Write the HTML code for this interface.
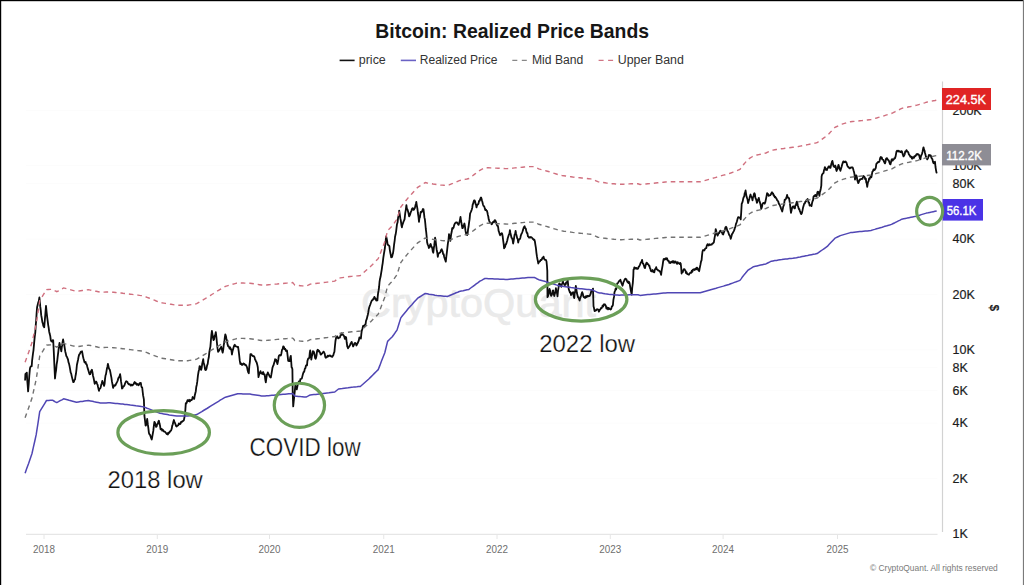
<!DOCTYPE html>
<html><head><meta charset="utf-8"><style>
html,body{margin:0;padding:0;background:#fff;}
body{width:1024px;height:585px;overflow:hidden;position:relative;}
svg{position:absolute;left:0;top:0;display:block;}
text{font-family:"Liberation Sans", sans-serif;}
</style></head><body>
<svg width="1024" height="585" viewBox="0 0 1024 585">
<rect x="0" y="0" width="1024" height="585" fill="#fff"/>
<line x1="26" y1="110.3" x2="937.5" y2="110.3" stroke="#fcfcfc" stroke-width="1"/>
<line x1="26" y1="165.7" x2="937.5" y2="165.7" stroke="#fcfcfc" stroke-width="1"/>
<line x1="26" y1="183.6" x2="937.5" y2="183.6" stroke="#fcfcfc" stroke-width="1"/>
<line x1="26" y1="239.0" x2="937.5" y2="239.0" stroke="#fcfcfc" stroke-width="1"/>
<line x1="26" y1="294.4" x2="937.5" y2="294.4" stroke="#fcfcfc" stroke-width="1"/>
<line x1="26" y1="349.9" x2="937.5" y2="349.9" stroke="#fcfcfc" stroke-width="1"/>
<line x1="26" y1="367.7" x2="937.5" y2="367.7" stroke="#fcfcfc" stroke-width="1"/>
<line x1="26" y1="390.7" x2="937.5" y2="390.7" stroke="#fcfcfc" stroke-width="1"/>
<line x1="26" y1="423.1" x2="937.5" y2="423.1" stroke="#fcfcfc" stroke-width="1"/>
<line x1="26" y1="478.6" x2="937.5" y2="478.6" stroke="#fcfcfc" stroke-width="1"/>
<!-- watermark -->
<text x="361" y="317" font-size="40" fill="#eaeaea" stroke="#eaeaea" stroke-width="0.6" textLength="235" lengthAdjust="spacingAndGlyphs">CryptoQuant</text>
<!-- title -->
<text x="375.3" y="37.7" font-size="20.8" font-weight="bold" fill="#161616" textLength="273.8" lengthAdjust="spacingAndGlyphs">Bitcoin: Realized Price Bands</text>
<!-- legend -->
<line x1="339.6" y1="60.4" x2="354.6" y2="60.4" stroke="#111" stroke-width="1.6"/>
<text x="358.8" y="63.5" font-size="12.3" fill="#333" textLength="27" lengthAdjust="spacingAndGlyphs">price</text>
<line x1="400.8" y1="60.4" x2="416" y2="60.4" stroke="#6a62c4" stroke-width="1.6"/>
<text x="419.8" y="63.5" font-size="12.3" fill="#333" textLength="77.6" lengthAdjust="spacingAndGlyphs">Realized Price</text>
<line x1="512.3" y1="60.4" x2="527" y2="60.4" stroke="#888" stroke-width="1.4" stroke-dasharray="5 4.5"/>
<text x="532" y="63.5" font-size="12.3" fill="#333" textLength="51.3" lengthAdjust="spacingAndGlyphs">Mid Band</text>
<line x1="598.6" y1="60.4" x2="613.4" y2="60.4" stroke="#d07584" stroke-width="1.4" stroke-dasharray="5 4.5"/>
<text x="617.8" y="63.5" font-size="12.3" fill="#333" textLength="66" lengthAdjust="spacingAndGlyphs">Upper Band</text>
<!-- axes -->
<line x1="26" y1="534.3" x2="937.5" y2="534.3" stroke="#e6e6e6" stroke-width="1.2"/>
<line x1="942.5" y1="81.5" x2="942.5" y2="532" stroke="#d2d2d2" stroke-width="1.2"/>
<line x1="44.0" y1="535" x2="44.0" y2="539" stroke="#e6e6e6" stroke-width="1"/>
<text x="44.0" y="553.1" font-size="10.8" fill="#6e6e6e" text-anchor="middle" textLength="22" lengthAdjust="spacingAndGlyphs">2018</text>
<line x1="157.3" y1="535" x2="157.3" y2="539" stroke="#e6e6e6" stroke-width="1"/>
<text x="157.3" y="553.1" font-size="10.8" fill="#6e6e6e" text-anchor="middle" textLength="22" lengthAdjust="spacingAndGlyphs">2019</text>
<line x1="269.5" y1="535" x2="269.5" y2="539" stroke="#e6e6e6" stroke-width="1"/>
<text x="269.5" y="553.1" font-size="10.8" fill="#6e6e6e" text-anchor="middle" textLength="22" lengthAdjust="spacingAndGlyphs">2020</text>
<line x1="383.75" y1="535" x2="383.75" y2="539" stroke="#e6e6e6" stroke-width="1"/>
<text x="383.75" y="553.1" font-size="10.8" fill="#6e6e6e" text-anchor="middle" textLength="22" lengthAdjust="spacingAndGlyphs">2021</text>
<line x1="497" y1="535" x2="497" y2="539" stroke="#e6e6e6" stroke-width="1"/>
<text x="497" y="553.1" font-size="10.8" fill="#6e6e6e" text-anchor="middle" textLength="22" lengthAdjust="spacingAndGlyphs">2022</text>
<line x1="610.3" y1="535" x2="610.3" y2="539" stroke="#e6e6e6" stroke-width="1"/>
<text x="610.3" y="553.1" font-size="10.8" fill="#6e6e6e" text-anchor="middle" textLength="22" lengthAdjust="spacingAndGlyphs">2023</text>
<line x1="723.1" y1="535" x2="723.1" y2="539" stroke="#e6e6e6" stroke-width="1"/>
<text x="723.1" y="553.1" font-size="10.8" fill="#6e6e6e" text-anchor="middle" textLength="22" lengthAdjust="spacingAndGlyphs">2024</text>
<line x1="837.5" y1="535" x2="837.5" y2="539" stroke="#e6e6e6" stroke-width="1"/>
<text x="837.5" y="553.1" font-size="10.8" fill="#6e6e6e" text-anchor="middle" textLength="22" lengthAdjust="spacingAndGlyphs">2025</text>
<text x="952.5" y="114.5" font-size="12.5" fill="#1c1c1c" stroke="#1c1c1c" stroke-width="0.2">200K</text>
<text x="952.5" y="169.9" font-size="12.5" fill="#1c1c1c" stroke="#1c1c1c" stroke-width="0.2">100K</text>
<text x="952.5" y="187.8" font-size="12.5" fill="#1c1c1c" stroke="#1c1c1c" stroke-width="0.2">80K</text>
<text x="952.5" y="243.2" font-size="12.5" fill="#1c1c1c" stroke="#1c1c1c" stroke-width="0.2">40K</text>
<text x="952.5" y="298.6" font-size="12.5" fill="#1c1c1c" stroke="#1c1c1c" stroke-width="0.2">20K</text>
<text x="952.5" y="354.1" font-size="12.5" fill="#1c1c1c" stroke="#1c1c1c" stroke-width="0.2">10K</text>
<text x="952.5" y="371.9" font-size="12.5" fill="#1c1c1c" stroke="#1c1c1c" stroke-width="0.2">8K</text>
<text x="952.5" y="394.9" font-size="12.5" fill="#1c1c1c" stroke="#1c1c1c" stroke-width="0.2">6K</text>
<text x="952.5" y="427.3" font-size="12.5" fill="#1c1c1c" stroke="#1c1c1c" stroke-width="0.2">4K</text>
<text x="952.5" y="482.8" font-size="12.5" fill="#1c1c1c" stroke="#1c1c1c" stroke-width="0.2">2K</text>
<text x="952.5" y="538.2" font-size="12.5" fill="#1c1c1c" stroke="#1c1c1c" stroke-width="0.2">1K</text>
<text transform="translate(990,307.8) rotate(90)" font-size="12" font-weight="bold" fill="#222" text-anchor="middle">$</text>
<path d="M25.1 380.5 L25.4 374.0 L25.9 373.4 L26.3 374.1 L26.8 372.6 L27.2 379.8 L27.7 385.8 L28.1 391.4 L28.7 384.5 L29.3 375.8 L29.9 368.9 L30.3 367.2 L30.8 366.4 L31.2 366.1 L31.7 366.1 L32.1 360.6 L32.6 356.7 L33.0 353.5 L33.5 350.1 L34.1 343.4 L34.7 337.1 L35.3 332.3 L35.8 324.6 L36.2 320.4 L36.6 313.4 L37.1 307.3 L37.7 304.8 L38.2 302.7 L38.8 301.2 L39.4 297.5 L39.9 302.5 L40.3 306.9 L40.8 310.6 L41.2 315.2 L41.8 318.3 L42.4 322.3 L42.9 323.7 L43.3 325.8 L43.8 326.4 L44.2 327.3 L44.8 320.7 L45.4 313.3 L46.0 305.8 L46.6 312.2 L47.2 317.3 L47.8 321.8 L48.2 325.1 L48.7 327.8 L49.1 331.2 L49.6 333.6 L50.2 335.7 L50.8 340.1 L51.4 341.3 L51.9 341.5 L52.3 341.7 L52.8 340.1 L53.2 340.3 L53.8 351.9 L54.4 365.8 L55.0 378.5 L55.5 373.8 L56.1 370.1 L56.6 364.7 L57.2 361.1 L57.7 356.6 L58.3 351.8 L58.9 346.8 L59.5 342.8 L60.1 346.0 L60.7 348.0 L61.3 351.3 L61.8 347.0 L62.2 345.2 L62.6 341.9 L63.1 339.5 L63.6 342.4 L64.2 344.5 L64.7 347.9 L65.3 351.7 L65.8 353.6 L66.3 356.0 L66.9 356.8 L67.4 358.2 L68.0 359.5 L68.5 362.3 L69.0 363.6 L69.6 366.3 L70.1 369.1 L70.7 372.6 L71.2 373.6 L71.7 376.1 L72.2 378.1 L72.8 380.6 L73.3 382.2 L73.9 381.7 L74.4 380.0 L75.0 379.6 L75.5 376.0 L76.0 373.5 L76.4 370.1 L76.9 365.0 L77.5 362.2 L78.1 359.5 L78.6 356.7 L79.2 354.4 L79.8 354.0 L80.3 352.8 L80.9 351.7 L81.4 352.0 L82.0 351.3 L82.5 353.8 L83.0 356.6 L83.4 358.2 L83.9 359.9 L84.4 362.1 L85.0 362.7 L85.6 362.0 L86.1 364.1 L86.7 364.4 L87.3 366.8 L87.9 368.9 L88.4 370.4 L89.0 372.6 L89.6 374.3 L90.2 374.2 L90.8 371.9 L91.3 370.7 L91.9 369.8 L92.5 372.5 L93.0 375.7 L93.6 378.0 L94.1 380.7 L94.7 383.8 L95.2 383.0 L95.7 382.8 L96.1 381.5 L96.6 382.4 L97.1 383.8 L97.6 384.8 L98.0 386.8 L98.5 388.9 L99.0 390.8 L99.5 388.8 L100.1 388.7 L100.7 387.4 L101.2 384.8 L101.8 383.2 L102.3 380.9 L102.9 382.5 L103.5 384.5 L104.1 385.9 L104.6 383.8 L105.0 379.1 L105.5 375.5 L106.0 374.1 L106.5 371.1 L107.0 368.2 L107.4 366.9 L107.9 363.8 L108.4 365.9 L108.8 368.0 L109.3 369.0 L109.8 369.8 L110.3 371.9 L110.9 375.1 L111.4 377.7 L112.0 381.9 L112.5 384.4 L113.1 387.9 L113.7 386.3 L114.2 385.3 L114.8 385.8 L115.4 385.5 L116.0 384.0 L116.6 382.8 L117.2 381.6 L117.8 380.3 L118.3 378.1 L118.9 377.5 L119.5 376.0 L120.1 374.2 L120.6 377.4 L121.0 381.2 L121.5 384.4 L122.0 388.6 L122.5 388.3 L123.0 386.5 L123.6 386.6 L124.1 385.9 L124.6 385.0 L125.2 383.1 L125.7 382.0 L126.2 381.2 L126.8 381.5 L127.4 381.9 L127.9 383.2 L128.5 384.1 L129.1 384.4 L129.7 384.1 L130.2 384.9 L130.8 385.6 L131.4 384.6 L131.9 385.3 L132.5 385.3 L133.1 384.6 L133.6 384.0 L134.1 383.0 L134.7 382.0 L135.2 383.5 L135.8 382.9 L136.3 384.2 L136.9 384.8 L137.4 384.0 L138.0 384.3 L138.6 385.2 L139.1 384.5 L139.7 383.2 L140.2 383.0 L140.8 382.8 L141.3 385.9 L141.7 387.2 L142.2 387.5 L142.7 392.0 L143.1 395.4 L143.6 397.9 L143.9 399.7 L144.4 415.7 L145.0 420.4 L145.6 425.7 L146.1 425.0 L146.7 421.8 L147.2 419.0 L147.8 424.2 L148.3 427.6 L148.9 432.9 L149.5 434.4 L150.0 434.7 L150.6 436.4 L151.1 438.0 L151.7 439.5 L152.2 437.2 L152.8 433.6 L153.3 430.9 L153.9 425.4 L154.4 421.9 L155.0 422.7 L155.5 424.7 L156.1 426.9 L156.7 426.3 L157.2 424.1 L157.8 423.9 L158.3 421.8 L158.9 420.7 L159.5 423.6 L160.0 425.5 L160.6 429.3 L161.1 429.0 L161.7 428.9 L162.2 430.7 L162.8 429.7 L163.3 430.5 L163.9 431.5 L164.4 431.7 L165.0 431.7 L165.6 432.5 L166.1 433.1 L166.7 434.0 L167.2 433.1 L167.8 434.5 L168.4 433.2 L168.9 432.5 L169.4 432.7 L170.0 431.5 L170.6 430.9 L171.1 430.5 L171.7 428.8 L172.2 425.9 L172.8 424.2 L173.3 422.0 L173.9 420.0 L174.4 421.9 L175.0 423.0 L175.6 424.6 L176.1 426.1 L176.7 426.5 L177.2 425.6 L177.8 425.5 L178.3 425.2 L178.9 423.4 L179.5 423.7 L180.0 424.2 L180.6 423.6 L181.1 421.9 L181.7 421.6 L182.2 421.9 L182.8 420.9 L183.3 420.9 L183.9 420.2 L184.4 417.5 L185.0 413.9 L185.4 409.3 L185.8 403.1 L186.4 403.3 L186.9 402.2 L187.5 400.2 L188.1 400.8 L188.7 401.1 L189.2 399.8 L189.8 401.5 L190.4 400.6 L191.0 400.0 L191.6 400.2 L192.1 399.1 L192.7 397.0 L193.2 398.1 L193.7 398.7 L194.2 398.9 L194.7 395.8 L195.3 393.2 L195.8 391.2 L196.3 386.7 L196.8 384.7 L197.3 381.4 L197.9 375.9 L198.5 372.0 L199.1 369.5 L199.6 366.2 L200.1 366.3 L200.7 369.2 L201.2 369.8 L201.7 367.8 L202.2 363.8 L202.7 361.8 L203.2 359.1 L203.6 362.9 L204.1 364.1 L204.6 366.2 L205.0 369.0 L205.5 370.0 L206.0 369.8 L206.5 368.7 L207.1 365.4 L207.7 363.9 L208.2 360.1 L208.8 357.3 L209.3 352.5 L209.9 348.9 L210.4 346.6 L210.9 340.7 L211.4 334.5 L211.9 330.9 L212.4 333.9 L213.0 337.8 L213.5 340.0 L214.1 339.4 L214.7 335.7 L215.2 335.2 L215.8 332.2 L216.4 337.0 L216.9 342.4 L217.5 348.2 L218.1 351.8 L218.6 350.8 L219.1 350.8 L219.6 349.5 L220.2 348.5 L220.7 347.8 L221.2 346.8 L221.7 348.9 L222.2 350.9 L222.7 352.7 L223.2 349.9 L223.7 345.3 L224.3 342.0 L224.8 337.7 L225.3 334.3 L225.9 336.0 L226.4 338.7 L227.0 340.6 L227.5 344.3 L228.1 346.3 L228.6 346.1 L229.1 347.1 L229.6 348.6 L230.2 347.4 L230.7 349.3 L231.2 349.1 L231.6 351.5 L231.9 354.5 L232.5 351.3 L233.1 349.2 L233.6 347.3 L234.2 345.6 L234.8 344.7 L235.3 346.2 L235.9 346.3 L236.4 346.6 L237.0 346.6 L237.5 347.0 L238.1 346.8 L238.7 351.2 L239.2 355.3 L239.8 360.9 L240.4 364.1 L240.9 363.8 L241.4 363.5 L241.9 364.9 L242.5 364.8 L243.0 364.3 L243.5 363.4 L244.1 363.8 L244.7 364.3 L245.3 365.2 L245.9 365.0 L246.5 366.1 L247.1 367.5 L247.7 370.6 L248.2 372.3 L248.8 373.2 L249.3 366.4 L249.9 361.7 L250.4 354.2 L250.9 354.6 L251.5 354.3 L252.0 355.3 L252.6 355.9 L253.1 356.2 L253.7 356.0 L254.2 356.9 L254.6 357.4 L255.0 359.4 L255.5 360.1 L256.1 361.8 L256.6 362.2 L257.2 364.4 L257.8 367.3 L258.1 371.8 L258.5 377.1 L258.9 375.4 L259.3 374.3 L259.9 372.6 L260.5 371.2 L261.1 373.1 L261.6 373.6 L262.1 373.1 L262.7 374.0 L263.2 372.0 L263.7 374.0 L264.2 374.8 L264.7 374.5 L265.2 379.1 L265.8 382.3 L266.4 377.9 L267.0 374.3 L267.4 374.1 L267.8 372.4 L268.3 373.8 L268.8 374.4 L269.3 375.7 L269.8 376.4 L270.3 377.2 L270.8 377.5 L271.3 374.9 L271.9 371.3 L272.4 368.1 L272.9 366.4 L273.5 365.3 L274.0 363.4 L274.6 361.8 L275.1 359.2 L275.6 360.5 L276.2 359.7 L276.8 362.0 L277.4 364.1 L277.9 361.9 L278.4 359.2 L278.8 355.9 L279.3 355.2 L279.8 355.4 L280.3 355.1 L280.8 355.5 L281.4 353.4 L282.0 349.9 L282.6 349.3 L283.2 346.4 L283.7 346.6 L284.1 347.6 L284.6 349.1 L285.1 348.6 L285.6 350.1 L286.1 351.0 L286.5 350.4 L287.0 350.6 L287.6 355.6 L288.2 360.8 L288.7 361.1 L289.2 360.9 L289.7 361.1 L290.2 357.8 L290.8 355.8 L291.2 361.2 L291.6 367.4 L292.0 367.7 L292.4 369.3 L292.7 392.0 L293.2 406.4 L293.7 401.3 L294.2 396.6 L294.8 391.2 L295.3 385.7 L295.8 386.2 L296.3 388.1 L296.8 389.3 L297.3 386.9 L297.9 383.8 L298.4 383.0 L298.9 381.3 L299.4 382.5 L299.9 382.1 L300.4 379.2 L300.9 379.0 L301.5 378.7 L302.0 377.9 L302.6 375.4 L303.1 373.5 L303.7 371.9 L304.2 371.9 L304.8 368.9 L305.4 368.2 L305.9 365.8 L306.5 365.0 L307.0 365.4 L307.4 361.1 L307.8 359.7 L308.3 358.3 L308.9 358.3 L309.4 357.1 L309.8 352.7 L310.2 350.5 L310.8 355.1 L311.3 359.6 L311.8 356.5 L312.4 354.4 L312.9 351.2 L313.3 351.4 L313.7 351.6 L314.1 352.5 L314.6 354.8 L315.1 358.1 L315.6 358.8 L316.1 357.6 L316.6 355.0 L317.1 350.9 L317.6 349.8 L318.1 350.1 L318.6 351.3 L319.0 350.8 L319.5 351.7 L320.0 352.6 L320.6 354.6 L321.1 354.6 L321.6 353.7 L322.1 353.5 L322.6 352.8 L323.2 351.9 L323.7 351.6 L324.2 352.7 L324.7 353.7 L325.3 357.1 L325.8 357.8 L326.4 357.2 L327.0 357.1 L327.5 355.9 L328.1 355.6 L328.6 356.4 L329.2 355.9 L329.7 355.4 L330.2 355.4 L330.7 356.3 L331.2 356.6 L331.8 356.2 L332.3 356.8 L332.8 355.8 L333.3 355.3 L333.9 353.0 L334.4 351.8 L334.9 346.5 L335.5 340.7 L336.1 337.8 L336.7 337.3 L337.2 336.4 L337.8 337.9 L338.3 338.4 L338.9 337.6 L339.5 337.7 L340.0 337.3 L340.6 335.1 L341.2 335.0 L341.8 333.3 L342.3 334.5 L342.8 334.8 L343.3 335.1 L343.8 335.7 L344.3 336.6 L344.8 338.8 L345.3 338.7 L345.7 337.0 L346.1 337.2 L346.7 342.5 L347.3 346.5 L347.6 347.0 L348.0 348.3 L348.5 347.3 L349.0 347.0 L349.5 345.8 L350.0 345.3 L350.5 343.8 L351.1 342.8 L351.6 341.9 L352.1 343.4 L352.6 344.6 L353.1 346.4 L353.6 345.6 L354.2 344.2 L354.7 343.1 L355.3 342.9 L355.9 343.8 L356.4 345.5 L357.0 344.3 L357.6 343.3 L358.2 341.8 L358.8 340.5 L359.4 337.4 L359.9 337.8 L360.4 338.0 L360.9 338.5 L361.3 334.4 L361.7 331.1 L362.1 329.7 L362.5 328.5 L363.0 326.2 L363.5 325.6 L364.1 326.3 L364.6 326.0 L365.1 324.5 L365.6 324.1 L366.0 321.0 L366.4 319.8 L366.8 318.9 L367.3 316.7 L367.8 314.7 L368.2 312.9 L368.7 309.6 L369.2 307.5 L369.8 305.7 L370.3 304.6 L370.8 303.0 L371.3 301.7 L371.8 300.7 L372.3 300.1 L372.9 299.8 L373.4 298.6 L373.9 298.3 L374.4 296.8 L375.0 298.9 L375.6 298.4 L376.2 300.4 L376.8 300.5 L377.4 300.4 L377.7 296.6 L378.1 293.2 L378.6 290.4 L379.1 287.0 L379.5 282.2 L380.0 278.9 L380.6 276.6 L381.1 273.4 L381.7 269.8 L382.2 266.2 L382.7 263.1 L383.3 257.9 L383.8 254.6 L384.4 251.0 L384.9 248.0 L385.3 243.8 L385.7 240.7 L386.1 236.3 L386.6 238.2 L387.1 240.6 L387.6 244.4 L388.2 245.1 L388.8 245.5 L389.4 246.1 L389.8 249.8 L390.3 252.8 L390.8 255.0 L391.2 257.3 L391.6 257.2 L392.1 256.9 L392.6 254.6 L393.0 253.3 L393.6 249.1 L394.1 244.5 L394.7 240.3 L395.1 236.4 L395.6 234.6 L396.1 231.6 L396.5 228.2 L397.0 224.2 L397.6 222.3 L398.1 217.6 L398.7 215.2 L399.2 210.7 L399.7 213.9 L400.3 218.2 L400.8 220.4 L401.4 225.0 L401.9 227.3 L402.4 224.9 L403.0 223.1 L403.5 221.7 L404.1 220.4 L404.6 219.2 L405.2 213.4 L405.8 209.8 L406.4 205.2 L406.9 208.9 L407.5 209.4 L408.0 211.3 L408.6 213.5 L409.1 216.3 L409.6 215.7 L410.2 214.1 L410.7 212.2 L411.3 211.1 L411.8 209.4 L412.3 208.3 L412.9 208.2 L413.4 209.9 L414.0 209.7 L414.5 208.5 L414.9 207.9 L415.4 205.6 L415.9 203.7 L416.3 201.9 L416.8 205.3 L417.4 208.7 L417.9 213.0 L418.5 216.9 L419.0 221.9 L419.4 218.0 L419.9 217.5 L420.4 213.7 L420.8 211.8 L421.3 212.2 L421.9 211.7 L422.4 210.3 L423.0 209.0 L423.5 209.3 L423.9 212.7 L424.4 217.4 L424.9 219.5 L425.3 223.4 L425.8 229.0 L426.2 231.8 L426.7 237.0 L427.1 242.3 L427.7 244.6 L428.3 245.6 L428.9 248.0 L429.3 246.7 L429.8 247.0 L430.2 244.4 L430.7 244.0 L431.2 246.1 L431.7 246.8 L432.3 248.4 L432.8 251.6 L433.3 252.7 L433.8 248.4 L434.2 245.7 L434.7 241.3 L435.1 237.7 L435.6 240.7 L436.2 245.8 L436.7 249.7 L437.3 252.7 L437.8 256.9 L438.3 254.0 L438.9 253.3 L439.4 252.8 L440.0 252.7 L440.5 251.6 L441.1 250.0 L441.7 249.2 L442.1 250.5 L442.6 251.5 L443.1 254.0 L443.7 254.1 L444.2 257.0 L444.7 258.4 L445.3 260.2 L445.8 261.7 L446.3 257.0 L446.9 252.1 L447.4 247.7 L447.9 243.4 L448.5 239.8 L449.0 234.1 L449.4 236.4 L449.9 239.7 L450.3 240.8 L450.8 237.2 L451.2 234.0 L451.7 231.8 L452.2 228.2 L452.7 228.8 L453.1 228.0 L453.6 227.5 L454.1 225.4 L454.6 224.1 L455.1 223.1 L455.5 223.0 L456.0 222.4 L456.5 222.4 L457.0 222.5 L457.6 223.4 L458.1 224.3 L458.6 224.9 L459.1 223.3 L459.6 221.8 L460.0 219.7 L460.5 216.8 L461.0 221.0 L461.4 222.6 L461.9 225.9 L462.4 228.2 L462.9 227.9 L463.4 225.6 L463.9 224.6 L464.4 223.5 L464.9 226.0 L465.4 230.2 L465.8 232.3 L466.3 234.6 L466.7 234.3 L467.2 235.0 L467.6 233.6 L468.1 229.2 L468.6 226.5 L469.1 222.4 L469.6 219.2 L470.1 213.6 L470.6 212.5 L471.1 211.4 L471.7 209.7 L472.2 208.0 L472.7 204.5 L473.2 203.5 L473.6 201.7 L474.1 200.4 L474.6 200.5 L475.1 201.5 L475.6 204.0 L476.0 204.7 L476.5 207.4 L477.0 205.6 L477.5 204.3 L478.0 204.3 L478.5 203.7 L479.0 201.0 L479.5 201.0 L480.0 200.0 L480.5 198.2 L481.0 197.4 L481.5 198.6 L481.9 200.3 L482.4 202.0 L482.9 204.3 L483.4 205.7 L483.9 206.1 L484.4 206.9 L484.9 208.9 L485.4 210.1 L485.9 209.6 L486.4 210.4 L486.9 210.7 L487.4 212.4 L487.8 214.7 L488.3 216.5 L488.7 219.3 L489.2 220.8 L489.7 222.0 L490.3 223.1 L490.8 222.9 L491.3 223.9 L491.8 224.3 L492.4 223.1 L492.9 222.2 L493.5 221.6 L494.0 222.3 L494.6 220.4 L495.1 220.2 L495.6 221.0 L496.1 222.3 L496.7 224.3 L497.2 225.7 L497.7 225.6 L498.2 227.5 L498.6 230.9 L499.1 232.1 L499.6 233.9 L500.1 235.3 L500.6 234.0 L501.2 234.4 L501.7 233.2 L502.2 233.8 L502.7 236.7 L503.1 240.0 L503.6 243.5 L504.1 248.4 L504.6 247.4 L505.1 246.8 L505.7 244.1 L506.2 244.0 L506.7 242.3 L507.2 240.7 L507.8 238.0 L508.3 236.4 L508.8 234.9 L509.4 233.8 L509.9 230.2 L510.4 232.9 L511.0 235.5 L511.5 237.7 L512.0 238.1 L512.6 239.9 L513.1 243.5 L513.6 241.2 L514.1 237.9 L514.6 234.7 L515.1 234.2 L515.6 230.8 L516.1 234.0 L516.6 235.6 L517.2 238.2 L517.7 239.0 L518.2 242.5 L518.7 240.2 L519.2 239.4 L519.8 239.2 L520.3 238.0 L520.8 235.6 L521.3 234.2 L521.9 233.1 L522.4 231.8 L523.0 230.1 L523.5 228.1 L524.1 226.9 L524.6 226.3 L525.2 228.3 L525.7 228.3 L526.3 231.0 L526.8 233.0 L527.4 233.2 L527.9 236.4 L528.5 236.6 L529.0 237.6 L529.6 237.5 L530.1 237.7 L530.6 237.0 L531.2 237.2 L531.7 237.6 L532.2 237.9 L532.8 239.0 L533.3 239.2 L533.8 239.9 L534.4 239.7 L534.9 241.5 L535.4 244.9 L535.9 247.9 L536.4 252.6 L536.9 256.2 L537.4 259.1 L537.8 260.8 L538.3 263.5 L538.9 262.1 L539.5 261.5 L540.0 261.4 L540.6 260.0 L541.2 260.0 L541.8 259.5 L542.3 257.9 L542.9 258.4 L543.5 256.6 L544.1 258.7 L544.7 259.6 L545.3 259.9 L545.9 259.8 L546.5 261.5 L546.9 265.5 L547.3 270.9 L547.5 297.2 L548.0 296.2 L548.5 294.1 L549.0 291.2 L549.5 288.9 L550.0 290.2 L550.6 294.3 L551.1 295.8 L551.6 295.2 L552.2 293.7 L552.7 290.7 L553.2 290.5 L553.8 294.3 L554.3 296.0 L554.8 293.9 L555.4 292.0 L555.9 288.1 L556.4 291.9 L557.0 293.0 L557.5 296.4 L558.0 290.8 L558.6 287.2 L559.1 283.7 L559.6 283.4 L560.2 284.6 L560.8 286.1 L561.3 286.8 L561.8 284.5 L562.4 283.0 L562.9 281.1 L563.5 283.5 L564.0 283.8 L564.5 285.0 L565.1 284.3 L565.6 284.7 L566.1 282.5 L566.7 282.5 L567.2 281.8 L567.7 280.4 L568.2 285.7 L568.8 289.4 L569.3 290.7 L569.9 292.5 L570.5 292.2 L571.0 295.2 L571.5 294.1 L572.0 293.2 L572.6 293.6 L573.1 292.1 L573.7 296.2 L574.2 298.1 L574.7 293.7 L575.3 290.6 L575.8 286.0 L576.3 288.7 L576.9 293.1 L577.4 294.9 L578.0 297.4 L578.5 297.2 L579.0 298.9 L579.6 300.5 L580.1 298.4 L580.6 297.3 L581.2 295.3 L581.7 293.4 L582.2 292.2 L582.8 293.8 L583.3 296.2 L583.9 297.3 L584.4 297.3 L585.0 298.0 L585.5 296.4 L586.0 296.5 L586.6 297.3 L587.1 295.9 L587.6 295.8 L588.2 296.4 L588.7 295.8 L589.3 296.1 L589.8 295.7 L590.3 294.7 L590.9 292.9 L591.4 290.3 L591.9 290.6 L592.5 289.8 L593.0 288.6 L593.5 306.3 L594.0 308.1 L594.6 311.2 L595.1 310.3 L595.7 310.6 L596.2 310.2 L596.7 309.3 L597.2 309.2 L597.8 309.6 L598.4 309.7 L598.9 311.7 L599.4 310.7 L600.0 309.5 L600.5 309.2 L601.0 308.0 L601.6 308.2 L602.1 307.0 L602.6 305.6 L603.2 306.5 L603.7 304.3 L604.3 304.9 L604.8 304.2 L605.3 305.1 L605.9 306.0 L606.4 308.7 L606.9 307.3 L607.5 308.5 L608.0 309.4 L608.5 307.9 L609.1 308.2 L609.6 309.1 L610.2 309.1 L610.7 309.5 L611.2 308.9 L611.8 306.6 L612.4 306.0 L612.9 305.0 L613.4 299.9 L614.0 296.9 L614.5 292.1 L615.0 291.0 L615.6 288.7 L616.1 289.5 L616.7 286.6 L617.2 283.3 L617.7 283.4 L618.3 282.4 L618.8 281.5 L619.3 280.8 L619.9 280.6 L620.4 279.8 L620.9 281.4 L621.5 283.3 L622.0 284.3 L622.5 285.7 L623.0 284.0 L623.6 281.8 L624.1 281.0 L624.7 279.4 L625.2 278.7 L625.7 278.9 L626.3 279.1 L626.8 280.6 L627.4 282.0 L627.9 281.2 L628.4 283.1 L629.0 281.9 L629.5 282.9 L630.0 285.6 L630.6 289.3 L631.2 292.4 L631.7 294.7 L632.2 287.9 L632.8 283.1 L633.3 276.1 L633.5 269.8 L633.9 269.5 L634.3 267.3 L634.9 267.6 L635.4 267.8 L636.0 268.7 L636.6 267.9 L637.1 268.8 L637.7 268.8 L638.2 268.3 L638.7 266.7 L639.2 266.4 L639.8 265.1 L640.4 263.5 L640.9 262.2 L641.5 261.9 L642.1 259.8 L642.7 263.4 L643.3 263.8 L643.9 265.5 L644.5 267.6 L645.0 268.1 L645.5 265.7 L646.0 264.1 L646.5 262.7 L647.0 262.8 L647.5 264.2 L647.9 264.2 L648.4 264.4 L648.9 265.8 L649.4 265.7 L649.9 268.0 L650.4 268.8 L650.9 271.0 L651.5 271.2 L652.0 271.5 L652.6 270.0 L653.2 271.8 L653.7 272.1 L654.3 272.3 L654.8 269.8 L655.3 269.1 L655.8 268.1 L656.2 267.1 L656.7 269.2 L657.2 269.6 L657.7 269.7 L658.2 270.6 L658.7 270.7 L659.3 270.9 L659.9 271.5 L660.5 272.5 L661.1 274.8 L661.6 270.8 L662.1 268.1 L662.6 265.3 L663.1 261.6 L663.6 259.1 L664.2 258.9 L664.7 259.6 L665.3 258.6 L665.9 258.3 L666.4 259.4 L667.0 258.2 L667.6 260.1 L668.2 260.9 L668.8 260.9 L669.4 262.9 L669.9 262.7 L670.4 263.0 L670.9 261.9 L671.4 262.3 L671.9 261.7 L672.5 261.2 L673.1 262.6 L673.6 261.2 L674.2 262.8 L674.8 261.7 L675.4 261.5 L676.0 262.1 L676.5 263.3 L677.1 263.9 L677.7 262.1 L678.3 263.2 L678.9 263.3 L679.5 264.0 L680.1 262.9 L680.7 263.6 L681.2 267.9 L681.6 273.5 L682.2 271.5 L682.8 272.1 L683.4 270.0 L684.0 269.1 L684.6 269.3 L685.1 270.2 L685.5 270.7 L686.0 273.1 L686.6 272.3 L687.2 274.0 L687.8 274.1 L688.4 274.6 L689.0 274.6 L689.6 273.4 L690.1 273.0 L690.7 272.4 L691.3 272.8 L691.8 270.6 L692.4 271.7 L693.0 269.6 L693.6 269.5 L694.1 269.2 L694.7 270.1 L695.3 268.9 L695.8 268.4 L696.3 269.2 L696.8 267.7 L697.3 267.9 L697.8 268.8 L698.2 270.0 L698.7 270.7 L699.2 271.2 L699.8 267.7 L700.4 264.9 L701.0 261.7 L701.6 260.2 L702.0 255.6 L702.5 251.5 L703.1 250.0 L703.6 250.2 L704.2 250.5 L704.7 249.7 L705.3 248.5 L705.8 248.2 L706.3 248.1 L706.7 245.9 L707.2 244.8 L707.7 244.1 L708.3 245.1 L708.8 245.5 L709.4 244.3 L709.9 244.5 L710.5 244.9 L711.1 244.7 L711.6 244.7 L712.2 243.6 L712.7 243.5 L713.3 242.9 L713.8 242.6 L714.2 240.2 L714.7 237.1 L715.2 234.8 L715.7 229.1 L716.2 231.0 L716.7 233.5 L717.1 234.4 L717.6 235.6 L718.2 234.2 L718.7 233.0 L719.3 233.1 L719.8 231.3 L720.4 230.7 L721.0 231.6 L721.5 231.5 L722.1 232.8 L722.6 234.1 L723.2 234.5 L723.8 232.6 L724.3 231.4 L724.9 229.5 L725.4 227.4 L726.0 226.8 L726.5 227.6 L727.0 229.4 L727.4 230.9 L727.9 231.2 L728.5 232.9 L729.0 234.6 L729.6 235.4 L730.1 236.4 L730.7 238.8 L731.1 237.6 L731.6 235.8 L732.0 234.1 L732.6 233.4 L733.2 232.1 L733.8 231.1 L734.4 229.7 L734.9 227.8 L735.4 226.8 L735.9 224.1 L736.4 222.9 L736.8 221.8 L737.3 219.9 L737.8 217.9 L738.3 217.1 L738.8 217.4 L739.3 217.5 L739.8 217.8 L740.2 218.1 L740.7 219.4 L741.2 212.6 L741.7 203.8 L742.2 202.9 L742.7 201.3 L743.2 198.7 L743.7 197.1 L744.2 196.6 L744.7 193.2 L745.1 192.8 L745.6 190.5 L746.1 194.1 L746.6 196.8 L747.1 198.3 L747.6 199.8 L748.1 203.1 L748.7 200.9 L749.3 199.0 L749.9 196.4 L750.5 194.5 L751.0 196.2 L751.5 196.9 L752.0 198.0 L752.5 200.4 L753.0 197.2 L753.5 196.5 L753.9 194.2 L754.4 193.2 L754.9 194.1 L755.4 197.9 L755.9 198.8 L756.4 200.4 L756.9 202.9 L757.4 201.9 L757.8 199.8 L758.3 199.3 L758.8 197.9 L759.3 200.5 L759.8 201.9 L760.3 203.8 L760.8 205.7 L761.2 208.8 L761.7 207.7 L762.2 205.5 L762.7 203.4 L763.2 203.1 L763.7 202.9 L764.2 203.2 L764.7 203.7 L765.3 202.2 L765.9 199.4 L766.5 196.3 L767.1 193.1 L767.6 193.9 L768.1 193.9 L768.6 195.9 L769.1 195.3 L769.7 195.3 L770.3 195.1 L770.8 194.5 L771.4 193.2 L772.0 192.3 L772.6 193.6 L773.1 193.5 L773.7 195.7 L774.2 195.5 L774.8 197.3 L775.3 196.9 L775.9 197.9 L776.5 198.7 L777.1 200.1 L777.6 200.7 L778.2 201.3 L778.8 203.8 L779.4 204.3 L779.9 205.5 L780.5 206.9 L781.1 208.6 L781.6 209.8 L782.2 211.5 L782.7 209.4 L783.2 206.7 L783.7 205.7 L784.2 203.4 L784.7 199.6 L785.3 199.9 L785.9 198.9 L786.5 197.4 L787.1 194.9 L787.6 197.2 L788.1 197.8 L788.6 197.6 L789.1 198.5 L789.6 201.4 L790.1 205.2 L790.5 208.8 L791.0 212.9 L791.5 210.6 L792.0 208.3 L792.5 207.0 L793.1 206.4 L793.7 206.4 L794.3 208.3 L794.9 208.4 L795.4 205.4 L795.9 205.2 L796.4 202.9 L796.9 201.6 L797.4 203.2 L797.8 205.4 L798.3 207.1 L798.8 209.0 L799.3 208.9 L799.8 211.0 L800.3 211.9 L800.8 213.5 L801.3 214.1 L801.9 213.0 L802.5 210.4 L803.0 207.8 L803.6 205.8 L804.2 203.7 L804.8 203.5 L805.3 201.7 L805.9 201.6 L806.5 200.1 L807.0 199.9 L807.6 199.0 L808.1 200.6 L808.6 202.7 L809.1 202.4 L809.6 205.6 L810.1 205.0 L810.5 205.3 L811.0 205.6 L811.5 206.1 L812.0 203.2 L812.5 201.3 L813.0 200.4 L813.5 196.7 L814.0 195.9 L814.6 196.0 L815.2 194.9 L815.8 196.2 L816.4 196.5 L816.9 195.2 L817.4 192.2 L817.9 191.7 L818.4 192.2 L818.9 193.6 L819.4 195.9 L819.9 191.9 L820.3 190.9 L820.8 188.5 L821.3 185.6 L821.6 176.4 L822.1 174.6 L822.5 174.0 L823.0 173.4 L823.5 173.0 L824.0 170.2 L824.4 168.9 L824.9 167.1 L825.4 168.3 L825.8 169.8 L826.3 169.7 L826.9 170.0 L827.4 168.4 L828.0 167.8 L828.5 166.6 L829.1 166.3 L829.6 167.6 L830.0 167.3 L830.5 167.9 L831.0 165.3 L831.5 163.6 L831.9 161.9 L832.4 160.9 L832.9 163.2 L833.3 165.7 L833.8 166.4 L834.3 167.1 L834.7 166.8 L835.2 165.5 L835.7 166.7 L836.1 169.4 L836.6 171.0 L837.1 169.5 L837.5 169.1 L838.0 166.6 L838.5 164.8 L839.0 166.6 L839.5 168.4 L839.9 169.3 L840.4 170.8 L841.0 168.7 L841.6 166.7 L842.2 164.4 L842.8 162.5 L843.3 161.4 L843.9 162.2 L844.5 161.6 L845.1 162.1 L845.6 161.4 L846.0 162.2 L846.5 162.6 L847.1 165.1 L847.7 166.5 L848.3 167.0 L848.9 167.5 L849.4 168.4 L850.0 168.3 L850.5 167.9 L851.0 167.3 L851.5 167.4 L852.1 167.6 L852.6 167.4 L853.1 168.7 L853.5 170.2 L854.0 171.9 L854.5 174.4 L855.0 179.6 L855.5 177.0 L855.9 175.6 L856.4 175.4 L856.9 177.3 L857.3 180.3 L857.8 181.7 L858.3 183.2 L858.8 182.1 L859.2 180.7 L859.7 179.5 L860.3 179.8 L860.9 179.0 L861.4 179.1 L862.0 178.7 L862.5 178.9 L862.9 177.1 L863.4 176.0 L864.0 176.4 L864.6 177.1 L865.2 179.2 L865.8 178.7 L866.3 182.6 L866.7 183.1 L867.2 186.8 L867.7 183.6 L868.2 181.6 L868.6 181.2 L869.1 178.5 L869.7 178.9 L870.2 177.2 L870.8 176.4 L871.4 177.2 L871.9 174.3 L872.4 171.7 L873.0 171.1 L873.5 169.4 L874.1 170.2 L874.6 170.0 L875.2 169.1 L875.8 167.8 L876.3 164.1 L876.9 163.2 L877.4 163.0 L878.0 161.9 L878.5 162.1 L879.1 162.0 L879.6 160.8 L880.2 157.9 L880.8 156.9 L881.3 158.3 L881.8 157.6 L882.3 159.5 L882.8 159.7 L883.4 159.8 L883.9 161.4 L884.5 162.7 L885.0 163.4 L885.5 161.9 L886.0 158.9 L886.5 158.3 L887.0 158.1 L887.5 159.3 L888.0 160.0 L888.5 160.2 L889.0 161.0 L889.5 162.7 L889.9 163.8 L890.4 164.4 L891.0 162.2 L891.5 160.0 L892.1 159.1 L892.7 160.6 L893.2 159.7 L893.8 159.5 L894.4 158.1 L895.0 158.3 L895.5 156.8 L896.0 154.2 L896.5 151.4 L897.0 150.7 L897.6 150.8 L898.1 151.6 L898.7 150.7 L899.2 151.4 L899.8 151.4 L900.4 152.1 L900.9 152.0 L901.5 151.1 L902.0 151.7 L902.5 153.4 L903.0 154.9 L903.5 156.4 L904.1 155.5 L904.7 154.3 L905.3 151.3 L905.9 151.6 L906.5 150.2 L907.1 151.3 L907.6 151.7 L908.2 152.1 L908.8 154.2 L909.3 154.9 L909.8 155.5 L910.3 156.8 L910.9 156.5 L911.4 156.8 L911.9 158.6 L912.4 158.7 L912.9 157.1 L913.5 157.9 L914.0 157.8 L914.5 156.1 L915.0 156.4 L915.5 156.1 L916.0 155.2 L916.5 154.3 L917.1 153.9 L917.6 154.5 L918.1 154.1 L918.7 154.7 L919.2 155.3 L919.8 158.1 L920.4 159.3 L920.9 156.3 L921.4 155.1 L922.0 153.8 L922.5 151.9 L923.0 149.3 L923.5 147.3 L924.0 149.4 L924.5 150.5 L924.9 152.5 L925.4 154.4 L925.9 156.6 L926.3 157.0 L926.8 158.6 L927.3 159.4 L927.9 158.4 L928.5 156.4 L929.0 154.9 L929.6 155.6 L930.2 155.2 L930.8 155.6 L931.3 157.5 L931.9 158.7 L932.4 159.2 L933.0 161.9 L933.5 163.2 L934.0 163.3 L934.5 162.0 L935.0 161.8 L935.5 167.0 L936.0 170.1 L936.5 172.7 L936.7 172.0" fill="none" stroke="#0c0c0c" stroke-width="1.8" stroke-linejoin="round"/>
<path d="M25.1 473.2 L26.8 468.3 L28.6 463.4 L30.3 458.4 L32.0 453.5 L33.4 447.2 L34.8 441.0 L36.2 434.7 L38.0 423.1 L39.7 411.6 L41.4 408.8 L43.1 406.1 L44.8 403.3 L46.5 400.5 L48.5 400.4 L50.5 400.3 L52.5 400.2 L53.9 401.0 L55.3 401.8 L56.8 402.6 L58.5 401.7 L60.2 400.7 L61.9 399.8 L63.6 398.8 L65.4 399.3 L67.3 399.8 L69.1 400.3 L70.9 400.7 L72.7 401.2 L74.6 401.7 L76.4 402.2 L78.4 401.9 L80.4 401.6 L82.4 401.4 L84.4 401.1 L86.4 400.8 L88.4 400.5 L90.4 400.9 L92.4 401.3 L94.3 401.8 L96.3 402.2 L98.3 402.6 L100.3 403.0 L102.2 403.0 L104.2 402.9 L106.1 402.9 L108.1 402.8 L110.0 402.8 L111.8 403.0 L113.7 403.2 L115.5 403.4 L117.4 403.5 L119.2 403.7 L121.1 403.9 L122.9 404.1 L124.8 404.4 L126.7 404.6 L128.5 404.8 L130.3 405.1 L132.2 405.3 L134.1 405.5 L135.9 405.8 L137.8 406.0 L139.6 406.2 L141.5 406.5 L143.3 406.7 L145.2 407.4 L147.0 408.2 L148.9 408.9 L150.8 409.6 L152.6 410.4 L154.4 411.1 L156.3 411.8 L158.2 412.6 L160.0 413.3 L161.9 413.6 L163.7 413.9 L165.6 414.2 L167.4 414.5 L169.3 414.9 L171.1 415.2 L173.0 415.5 L174.8 415.8 L176.7 416.1 L178.5 416.1 L180.4 416.1 L182.2 416.1 L184.1 416.1 L186.0 416.1 L187.8 416.1 L189.6 415.8 L191.4 415.5 L193.1 415.2 L194.9 414.9 L196.7 414.6 L198.4 413.6 L200.1 412.6 L201.8 411.6 L203.5 410.5 L205.2 409.5 L206.9 408.5 L208.5 407.5 L210.2 406.4 L211.8 405.4 L213.5 404.3 L215.1 403.3 L216.8 402.3 L218.5 401.3 L220.2 400.2 L222.0 399.2 L223.7 398.2 L225.4 397.2 L227.2 396.7 L228.9 396.2 L230.7 395.7 L232.4 395.2 L234.2 394.7 L235.9 394.2 L237.7 393.7 L239.5 393.8 L241.2 393.8 L243.0 393.9 L244.7 393.9 L246.5 394.0 L248.2 394.0 L250.0 394.1 L251.9 394.4 L253.8 394.7 L255.7 395.0 L257.6 395.3 L259.5 395.6 L261.4 395.9 L263.2 395.9 L265.0 396.0 L266.7 395.8 L268.4 395.7 L270.1 395.5 L271.9 395.3 L273.6 395.2 L275.3 395.0 L277.2 394.8 L279.2 394.7 L281.1 394.5 L283.0 394.3 L285.0 394.2 L286.9 394.0 L288.8 393.8 L290.8 393.7 L292.7 393.5 L293.8 394.8 L294.8 396.0 L296.7 396.2 L298.6 396.4 L300.5 396.6 L302.3 396.7 L304.2 396.9 L306.1 397.1 L307.5 396.4 L308.8 395.7 L310.2 395.0 L312.0 394.8 L313.9 394.6 L315.7 394.4 L317.6 394.2 L319.4 394.0 L321.3 393.8 L323.2 393.5 L325.2 393.2 L327.1 393.0 L329.0 392.8 L330.9 392.5 L332.9 392.2 L334.8 392.0 L336.6 390.5 L338.5 389.0 L340.4 388.7 L342.3 388.5 L344.2 388.2 L346.2 387.9 L348.1 387.7 L350.0 387.4 L351.7 387.2 L353.4 387.1 L355.1 386.9 L356.9 386.8 L358.6 386.6 L360.3 386.5 L362.0 385.0 L363.7 383.5 L365.4 382.0 L367.1 380.5 L368.8 379.0 L370.7 377.1 L372.6 375.2 L374.4 373.4 L376.3 371.5 L378.2 369.6 L379.9 365.4 L381.5 361.1 L383.1 356.9 L384.8 352.7 L386.2 347.0 L387.6 341.4 L389.2 339.8 L390.7 338.3 L392.3 336.7 L393.9 334.5 L395.4 332.3 L397.0 330.1 L398.9 324.0 L400.8 317.9 L402.6 315.5 L404.5 313.2 L406.4 310.9 L408.3 308.5 L410.2 306.4 L412.1 304.4 L413.9 302.3 L415.8 300.3 L417.7 298.2 L419.6 297.0 L421.4 295.9 L423.3 294.7 L425.2 293.5 L427.2 293.8 L429.1 294.2 L431.1 294.5 L433.1 294.8 L435.0 295.2 L437.0 295.5 L438.7 295.7 L440.4 295.8 L442.1 296.0 L443.9 296.2 L445.6 296.3 L447.3 296.5 L449.1 295.8 L450.9 295.0 L452.7 294.2 L454.5 293.5 L456.1 292.8 L457.7 292.2 L459.3 291.5 L461.2 291.1 L463.1 290.7 L465.1 290.2 L467.0 289.8 L468.9 289.4 L470.7 288.0 L472.6 286.7 L474.4 285.3 L476.2 283.9 L478.1 282.6 L479.9 281.2 L481.6 280.3 L483.2 279.4 L484.9 278.5 L486.8 278.6 L488.6 278.7 L490.5 278.8 L492.4 278.8 L494.3 278.9 L496.1 279.0 L498.0 279.1 L499.9 279.2 L501.8 279.2 L503.6 279.3 L505.5 279.4 L507.4 279.5 L509.3 279.3 L511.1 279.1 L513.0 279.0 L514.9 278.8 L516.8 278.6 L518.6 278.4 L520.5 278.2 L522.4 278.0 L524.3 277.9 L526.1 277.7 L528.0 277.5 L529.6 277.5 L531.2 277.5 L532.8 277.5 L534.4 277.5 L535.8 278.2 L537.3 279.0 L538.7 279.7 L540.6 280.2 L542.6 280.8 L544.5 281.3 L546.5 281.9 L548.4 282.4 L550.4 283.0 L552.3 283.6 L554.3 284.2 L556.3 284.9 L558.2 285.5 L560.2 286.1 L562.0 286.3 L563.8 286.6 L565.6 286.8 L567.4 287.1 L569.1 287.3 L570.9 287.6 L572.7 287.8 L574.5 288.1 L576.3 288.3 L578.1 288.5 L579.9 288.7 L581.7 288.8 L583.5 289.0 L585.2 289.2 L587.0 289.4 L588.8 289.5 L590.6 289.7 L592.4 289.9 L594.2 290.8 L596.0 291.7 L597.8 292.6 L599.6 292.9 L601.4 293.1 L603.2 293.4 L605.0 293.7 L606.8 293.9 L608.6 294.2 L610.4 294.4 L612.2 294.5 L614.0 294.7 L615.7 294.9 L617.5 295.0 L619.3 295.2 L621.3 295.1 L623.2 295.0 L625.2 294.9 L627.2 294.9 L629.1 294.8 L631.1 294.7 L632.8 294.7 L634.5 294.7 L636.3 294.7 L638.0 294.7 L640.0 295.4 L642.0 295.2 L643.9 295.0 L645.9 294.8 L647.8 294.6 L649.8 294.4 L651.7 294.2 L653.7 294.0 L655.7 293.9 L657.6 293.7 L659.6 293.5 L661.5 293.3 L663.5 293.1 L665.4 292.9 L667.4 292.7 L669.3 292.7 L671.3 292.7 L673.2 292.7 L675.1 292.7 L677.0 292.7 L679.0 292.7 L680.9 292.7 L682.8 292.7 L684.8 292.7 L686.7 292.7 L688.6 292.7 L690.6 292.7 L692.5 292.7 L694.4 292.7 L696.3 292.7 L698.3 292.7 L700.2 292.7 L702.0 292.2 L703.7 291.7 L705.5 291.2 L707.2 290.7 L709.0 290.2 L710.7 289.7 L712.5 289.2 L714.3 288.7 L716.1 288.2 L718.0 287.6 L719.8 287.1 L721.6 286.6 L723.4 286.1 L725.3 285.5 L727.1 285.0 L728.9 284.5 L730.7 283.8 L732.6 283.1 L734.4 282.4 L736.2 281.8 L738.1 281.1 L739.9 280.4 L741.3 278.6 L742.6 276.7 L744.0 274.9 L745.4 273.3 L746.7 271.7 L748.1 270.1 L749.9 269.0 L751.7 267.8 L753.5 266.7 L755.3 266.3 L757.0 265.9 L758.8 265.5 L760.6 265.1 L762.4 264.7 L764.1 264.3 L765.9 263.9 L767.7 263.0 L769.5 262.1 L771.3 261.2 L773.0 260.9 L774.8 260.6 L776.5 260.4 L778.3 260.1 L780.0 259.8 L781.8 259.6 L783.7 259.3 L785.5 259.1 L787.3 258.9 L789.2 258.6 L791.0 258.4 L792.8 258.2 L794.7 257.9 L796.5 257.7 L798.4 257.3 L800.2 257.0 L802.1 256.6 L804.0 256.2 L805.9 255.8 L807.7 255.5 L809.6 255.1 L811.5 254.7 L813.4 254.3 L815.2 254.0 L817.1 253.6 L818.8 252.4 L820.5 251.2 L822.2 250.0 L823.9 248.8 L825.6 247.6 L827.3 246.4 L829.2 244.3 L831.1 242.3 L833.1 240.2 L835.0 238.2 L836.8 237.3 L838.5 236.5 L840.3 235.6 L842.0 235.1 L843.7 234.6 L845.4 234.1 L847.1 233.6 L848.8 233.1 L850.5 232.6 L852.4 232.4 L854.2 232.2 L856.1 232.0 L858.0 231.8 L859.8 231.6 L861.7 231.5 L863.5 231.3 L865.4 231.1 L867.3 230.9 L869.1 230.7 L871.0 230.5 L872.9 229.9 L874.7 229.4 L876.6 228.8 L878.5 228.3 L880.3 227.7 L882.2 227.2 L884.0 226.6 L885.9 226.1 L887.8 225.5 L889.6 225.0 L891.5 224.4 L893.2 223.5 L894.9 222.7 L896.6 221.8 L898.4 220.9 L900.1 220.1 L901.8 219.2 L903.6 218.8 L905.4 218.4 L907.2 218.1 L909.0 217.7 L910.8 217.3 L912.6 216.9 L914.4 216.6 L916.2 216.2 L917.9 215.7 L919.6 215.2 L921.3 214.6 L923.0 214.1 L924.7 213.6 L926.4 213.1 L928.1 212.8 L929.8 212.4 L931.5 212.1 L933.3 211.7 L935.0 211.3 L936.7 211.0" fill="none" stroke="#5046b4" stroke-width="1.5" stroke-linejoin="round"/>
<path d="M25.1 417.8 L26.8 412.8 L28.6 407.9 L30.3 403.0 L32.0 398.1 L33.4 391.8 L34.8 385.5 L36.2 379.3 L38.0 367.7 L39.7 356.2 L41.4 353.4 L43.1 350.6 L44.8 347.8 L46.5 345.1 L48.5 345.0 L50.5 344.9 L52.5 344.8 L53.9 345.6 L55.3 346.4 L56.8 347.2 L58.5 346.2 L60.2 345.3 L61.9 344.3 L63.6 343.4 L65.4 343.9 L67.3 344.3 L69.1 344.8 L70.9 345.3 L72.7 345.8 L74.6 346.3 L76.4 346.8 L78.4 346.5 L80.4 346.2 L82.4 345.9 L84.4 345.6 L86.4 345.4 L88.4 345.1 L90.4 345.5 L92.4 345.9 L94.3 346.3 L96.3 346.7 L98.3 347.2 L100.3 347.6 L102.2 347.5 L104.2 347.5 L106.1 347.4 L108.1 347.4 L110.0 347.4 L111.8 347.6 L113.7 347.7 L115.5 347.9 L117.4 348.1 L119.2 348.3 L121.1 348.5 L122.9 348.7 L124.8 348.9 L126.7 349.2 L128.5 349.4 L130.3 349.6 L132.2 349.9 L134.1 350.1 L135.9 350.3 L137.8 350.6 L139.6 350.8 L141.5 351.0 L143.3 351.3 L145.2 352.0 L147.0 352.7 L148.9 353.5 L150.8 354.2 L152.6 354.9 L154.4 355.7 L156.3 356.4 L158.2 357.1 L160.0 357.9 L161.9 358.2 L163.7 358.5 L165.6 358.8 L167.4 359.1 L169.3 359.4 L171.1 359.7 L173.0 360.0 L174.8 360.4 L176.7 360.7 L178.5 360.7 L180.4 360.7 L182.2 360.7 L184.1 360.7 L186.0 360.7 L187.8 360.7 L189.6 360.4 L191.4 360.1 L193.1 359.8 L194.9 359.5 L196.7 359.2 L198.4 358.2 L200.1 357.1 L201.8 356.1 L203.5 355.1 L205.2 354.1 L206.9 353.1 L208.5 352.0 L210.2 351.0 L211.8 349.9 L213.5 348.9 L215.1 347.9 L216.8 346.9 L218.5 345.8 L220.2 344.8 L222.0 343.8 L223.7 342.8 L225.4 341.8 L227.2 341.3 L228.9 340.8 L230.7 340.3 L232.4 339.8 L234.2 339.3 L235.9 338.8 L237.7 338.3 L239.5 338.3 L241.2 338.4 L243.0 338.4 L244.7 338.5 L246.5 338.6 L248.2 338.6 L250.0 338.7 L251.9 339.0 L253.8 339.3 L255.7 339.6 L257.6 339.9 L259.5 340.2 L261.4 340.5 L263.2 340.5 L265.0 340.6 L266.7 340.4 L268.4 340.2 L270.1 340.1 L271.9 339.9 L273.6 339.7 L275.3 339.6 L277.2 339.4 L279.2 339.2 L281.1 339.1 L283.0 338.9 L285.0 338.7 L286.9 338.6 L288.8 338.4 L290.8 338.2 L292.7 338.1 L293.8 339.3 L294.8 340.6 L296.7 340.8 L298.6 340.9 L300.5 341.1 L302.3 341.3 L304.2 341.5 L306.1 341.7 L307.5 341.0 L308.8 340.3 L310.2 339.6 L312.0 339.4 L313.9 339.2 L315.7 339.0 L317.6 338.8 L319.4 338.6 L321.3 338.3 L323.2 338.1 L325.2 337.8 L327.1 337.6 L329.0 337.3 L330.9 337.1 L332.9 336.8 L334.8 336.6 L336.6 335.1 L338.5 333.6 L340.4 333.3 L342.3 333.0 L344.2 332.8 L346.2 332.5 L348.1 332.2 L350.0 332.0 L351.7 331.8 L353.4 331.7 L355.1 331.5 L356.9 331.4 L358.6 331.2 L360.3 331.1 L362.0 329.6 L363.7 328.1 L365.4 326.6 L367.1 325.1 L368.8 323.6 L370.7 321.7 L372.6 319.8 L374.4 317.9 L376.3 316.1 L378.2 314.2 L379.9 309.9 L381.5 305.7 L383.1 301.5 L384.8 297.3 L386.2 291.6 L387.6 286.0 L389.2 284.4 L390.7 282.8 L392.3 281.3 L393.9 279.1 L395.4 276.9 L397.0 274.7 L398.9 268.6 L400.8 262.5 L402.6 260.1 L404.5 257.8 L406.4 255.4 L408.3 253.1 L410.2 251.0 L412.1 248.9 L413.9 246.9 L415.8 244.8 L417.7 242.8 L419.6 241.6 L421.4 240.4 L423.3 239.2 L425.2 238.1 L427.2 238.4 L429.1 238.7 L431.1 239.1 L433.1 239.4 L435.0 239.7 L437.0 240.1 L438.7 240.2 L440.4 240.4 L442.1 240.6 L443.9 240.7 L445.6 240.9 L447.3 241.1 L449.1 240.3 L450.9 239.6 L452.7 238.8 L454.5 238.1 L456.1 237.4 L457.7 236.7 L459.3 236.1 L461.2 235.6 L463.1 235.2 L465.1 234.8 L467.0 234.4 L468.9 234.0 L470.7 232.6 L472.6 231.2 L474.4 229.9 L476.2 228.5 L478.1 227.1 L479.9 225.8 L481.6 224.9 L483.2 224.0 L484.9 223.1 L486.8 223.2 L488.6 223.2 L490.5 223.3 L492.4 223.4 L494.3 223.5 L496.1 223.6 L498.0 223.7 L499.9 223.7 L501.8 223.8 L503.6 223.9 L505.5 224.0 L507.4 224.1 L509.3 223.9 L511.1 223.7 L513.0 223.5 L514.9 223.3 L516.8 223.2 L518.6 223.0 L520.5 222.8 L522.4 222.6 L524.3 222.4 L526.1 222.3 L528.0 222.1 L529.6 222.1 L531.2 222.1 L532.8 222.1 L534.4 222.1 L535.8 222.8 L537.3 223.5 L538.7 224.3 L540.6 224.8 L542.6 225.3 L544.5 225.9 L546.5 226.4 L548.4 227.0 L550.4 227.6 L552.3 228.2 L554.3 228.8 L556.3 229.4 L558.2 230.1 L560.2 230.7 L562.0 230.9 L563.8 231.2 L565.6 231.4 L567.4 231.6 L569.1 231.9 L570.9 232.1 L572.7 232.4 L574.5 232.6 L576.3 232.9 L578.1 233.0 L579.9 233.2 L581.7 233.4 L583.5 233.6 L585.2 233.8 L587.0 233.9 L588.8 234.1 L590.6 234.3 L592.4 234.5 L594.2 235.4 L596.0 236.3 L597.8 237.2 L599.6 237.4 L601.4 237.7 L603.2 238.0 L605.0 238.2 L606.8 238.5 L608.6 238.8 L610.4 238.9 L612.2 239.1 L614.0 239.3 L615.7 239.4 L617.5 239.6 L619.3 239.8 L621.3 239.7 L623.2 239.6 L625.2 239.5 L627.2 239.4 L629.1 239.4 L631.1 239.3 L632.8 239.3 L634.5 239.3 L636.3 239.3 L638.0 239.3 L640.0 240.0 L642.0 239.8 L643.9 239.6 L645.9 239.4 L647.8 239.2 L649.8 239.0 L651.7 238.8 L653.7 238.6 L655.7 238.4 L657.6 238.2 L659.6 238.0 L661.5 237.8 L663.5 237.7 L665.4 237.5 L667.4 237.3 L669.3 237.3 L671.3 237.3 L673.2 237.3 L675.1 237.3 L677.0 237.3 L679.0 237.3 L680.9 237.3 L682.8 237.3 L684.8 237.3 L686.7 237.3 L688.6 237.3 L690.6 237.3 L692.5 237.3 L694.4 237.3 L696.3 237.3 L698.3 237.3 L700.2 237.3 L702.0 236.8 L703.7 236.3 L705.5 235.8 L707.2 235.3 L709.0 234.8 L710.7 234.3 L712.5 233.8 L714.3 233.2 L716.1 232.7 L718.0 232.2 L719.8 231.7 L721.6 231.2 L723.4 230.6 L725.3 230.1 L727.1 229.6 L728.9 229.1 L730.7 228.4 L732.6 227.7 L734.4 227.0 L736.2 226.3 L738.1 225.7 L739.9 225.0 L741.3 223.1 L742.6 221.3 L744.0 219.5 L745.4 217.9 L746.7 216.3 L748.1 214.7 L749.9 213.5 L751.7 212.4 L753.5 211.3 L755.3 210.9 L757.0 210.5 L758.8 210.1 L760.6 209.7 L762.4 209.3 L764.1 208.9 L765.9 208.5 L767.7 207.6 L769.5 206.7 L771.3 205.8 L773.0 205.5 L774.8 205.2 L776.5 204.9 L778.3 204.6 L780.0 204.4 L781.8 204.1 L783.7 203.9 L785.5 203.7 L787.3 203.4 L789.2 203.2 L791.0 203.0 L792.8 202.7 L794.7 202.5 L796.5 202.3 L798.4 201.9 L800.2 201.5 L802.1 201.2 L804.0 200.8 L805.9 200.4 L807.7 200.0 L809.6 199.7 L811.5 199.3 L813.4 198.9 L815.2 198.5 L817.1 198.2 L818.8 197.0 L820.5 195.8 L822.2 194.6 L823.9 193.4 L825.6 192.2 L827.3 191.0 L829.2 188.9 L831.1 186.9 L833.1 184.8 L835.0 182.8 L836.8 181.9 L838.5 181.0 L840.3 180.2 L842.0 179.7 L843.7 179.2 L845.4 178.7 L847.1 178.2 L848.8 177.7 L850.5 177.2 L852.4 177.0 L854.2 176.8 L856.1 176.6 L858.0 176.4 L859.8 176.2 L861.7 176.0 L863.5 175.8 L865.4 175.6 L867.3 175.5 L869.1 175.3 L871.0 175.1 L872.9 174.5 L874.7 174.0 L876.6 173.4 L878.5 172.9 L880.3 172.3 L882.2 171.7 L884.0 171.2 L885.9 170.6 L887.8 170.1 L889.6 169.5 L891.5 169.0 L893.2 168.1 L894.9 167.2 L896.6 166.4 L898.4 165.5 L900.1 164.6 L901.8 163.8 L903.6 163.4 L905.4 163.0 L907.2 162.6 L909.0 162.3 L910.8 161.9 L912.6 161.5 L914.4 161.1 L916.2 160.8 L917.9 160.3 L919.6 159.7 L921.3 159.2 L923.0 158.7 L924.7 158.2 L926.4 157.7 L928.1 157.3 L929.8 157.0 L931.5 156.6 L933.3 156.3 L935.0 155.9 L936.7 155.6" fill="none" stroke="#727272" stroke-width="1.4" stroke-dasharray="4.6 3.9"/>
<path d="M25.1 362.3 L26.8 357.4 L28.6 352.5 L30.3 347.6 L32.0 342.6 L33.4 336.4 L34.8 330.1 L36.2 323.8 L38.0 312.3 L39.7 300.7 L41.4 298.0 L43.1 295.2 L44.8 292.4 L46.5 289.6 L48.5 289.5 L50.5 289.4 L52.5 289.3 L53.9 290.1 L55.3 290.9 L56.8 291.7 L58.5 290.8 L60.2 289.8 L61.9 288.9 L63.6 287.9 L65.4 288.4 L67.3 288.9 L69.1 289.4 L70.9 289.9 L72.7 290.4 L74.6 290.9 L76.4 291.3 L78.4 291.1 L80.4 290.8 L82.4 290.5 L84.4 290.2 L86.4 289.9 L88.4 289.6 L90.4 290.1 L92.4 290.5 L94.3 290.9 L96.3 291.3 L98.3 291.7 L100.3 292.1 L102.2 292.1 L104.2 292.1 L106.1 292.0 L108.1 292.0 L110.0 291.9 L111.8 292.1 L113.7 292.3 L115.5 292.5 L117.4 292.7 L119.2 292.9 L121.1 293.0 L122.9 293.3 L124.8 293.5 L126.7 293.7 L128.5 294.0 L130.3 294.2 L132.2 294.4 L134.1 294.7 L135.9 294.9 L137.8 295.1 L139.6 295.4 L141.5 295.6 L143.3 295.8 L145.2 296.6 L147.0 297.3 L148.9 298.0 L150.8 298.8 L152.6 299.5 L154.4 300.2 L156.3 301.0 L158.2 301.7 L160.0 302.4 L161.9 302.8 L163.7 303.1 L165.6 303.4 L167.4 303.7 L169.3 304.0 L171.1 304.3 L173.0 304.6 L174.8 304.9 L176.7 305.2 L178.5 305.2 L180.4 305.2 L182.2 305.2 L184.1 305.2 L186.0 305.2 L187.8 305.2 L189.6 304.9 L191.4 304.6 L193.1 304.3 L194.9 304.0 L196.7 303.7 L198.4 302.7 L200.1 301.7 L201.8 300.7 L203.5 299.7 L205.2 298.7 L206.9 297.6 L208.5 296.6 L210.2 295.6 L211.8 294.5 L213.5 293.5 L215.1 292.4 L216.8 291.4 L218.5 290.4 L220.2 289.4 L222.0 288.4 L223.7 287.4 L225.4 286.3 L227.2 285.8 L228.9 285.3 L230.7 284.8 L232.4 284.3 L234.2 283.8 L235.9 283.3 L237.7 282.8 L239.5 282.9 L241.2 283.0 L243.0 283.0 L244.7 283.1 L246.5 283.1 L248.2 283.2 L250.0 283.2 L251.9 283.5 L253.8 283.8 L255.7 284.1 L257.6 284.4 L259.5 284.7 L261.4 285.0 L263.2 285.1 L265.0 285.1 L266.7 285.0 L268.4 284.8 L270.1 284.6 L271.9 284.5 L273.6 284.3 L275.3 284.1 L277.2 284.0 L279.2 283.8 L281.1 283.6 L283.0 283.5 L285.0 283.3 L286.9 283.1 L288.8 283.0 L290.8 282.8 L292.7 282.6 L293.8 283.9 L294.8 285.1 L296.7 285.3 L298.6 285.5 L300.5 285.7 L302.3 285.9 L304.2 286.1 L306.1 286.2 L307.5 285.5 L308.8 284.8 L310.2 284.1 L312.0 283.9 L313.9 283.7 L315.7 283.5 L317.6 283.3 L319.4 283.1 L321.3 282.9 L323.2 282.6 L325.2 282.4 L327.1 282.1 L329.0 281.9 L330.9 281.6 L332.9 281.4 L334.8 281.1 L336.6 279.6 L338.5 278.1 L340.4 277.9 L342.3 277.6 L344.2 277.3 L346.2 277.1 L348.1 276.8 L350.0 276.5 L351.7 276.4 L353.4 276.2 L355.1 276.1 L356.9 275.9 L358.6 275.8 L360.3 275.6 L362.0 274.1 L363.7 272.6 L365.4 271.1 L367.1 269.6 L368.8 268.1 L370.7 266.3 L372.6 264.4 L374.4 262.5 L376.3 260.6 L378.2 258.7 L379.9 254.5 L381.5 250.3 L383.1 246.1 L384.8 241.8 L386.2 236.2 L387.6 230.5 L389.2 229.0 L390.7 227.4 L392.3 225.8 L393.9 223.6 L395.4 221.4 L397.0 219.2 L398.9 213.1 L400.8 207.0 L402.6 204.7 L404.5 202.3 L406.4 200.0 L408.3 197.6 L410.2 195.6 L412.1 193.5 L413.9 191.5 L415.8 189.4 L417.7 187.3 L419.6 186.2 L421.4 185.0 L423.3 183.8 L425.2 182.6 L427.2 183.0 L429.1 183.3 L431.1 183.6 L433.1 184.0 L435.0 184.3 L437.0 184.6 L438.7 184.8 L440.4 185.0 L442.1 185.1 L443.9 185.3 L445.6 185.5 L447.3 185.6 L449.1 184.9 L450.9 184.1 L452.7 183.4 L454.5 182.6 L456.1 182.0 L457.7 181.3 L459.3 180.6 L461.2 180.2 L463.1 179.8 L465.1 179.4 L467.0 179.0 L468.9 178.5 L470.7 177.2 L472.6 175.8 L474.4 174.4 L476.2 173.1 L478.1 171.7 L479.9 170.3 L481.6 169.4 L483.2 168.5 L484.9 167.6 L486.8 167.7 L488.6 167.8 L490.5 167.9 L492.4 168.0 L494.3 168.1 L496.1 168.1 L498.0 168.2 L499.9 168.3 L501.8 168.4 L503.6 168.5 L505.5 168.6 L507.4 168.6 L509.3 168.5 L511.1 168.3 L513.0 168.1 L514.9 167.9 L516.8 167.7 L518.6 167.5 L520.5 167.4 L522.4 167.2 L524.3 167.0 L526.1 166.8 L528.0 166.6 L529.6 166.6 L531.2 166.6 L532.8 166.6 L534.4 166.6 L535.8 167.4 L537.3 168.1 L538.7 168.8 L540.6 169.4 L542.6 169.9 L544.5 170.5 L546.5 171.0 L548.4 171.5 L550.4 172.2 L552.3 172.8 L554.3 173.4 L556.3 174.0 L558.2 174.6 L560.2 175.2 L562.0 175.5 L563.8 175.7 L565.6 176.0 L567.4 176.2 L569.1 176.5 L570.9 176.7 L572.7 177.0 L574.5 177.2 L576.3 177.4 L578.1 177.6 L579.9 177.8 L581.7 178.0 L583.5 178.2 L585.2 178.3 L587.0 178.5 L588.8 178.7 L590.6 178.9 L592.4 179.0 L594.2 179.9 L596.0 180.8 L597.8 181.7 L599.6 182.0 L601.4 182.3 L603.2 182.5 L605.0 182.8 L606.8 183.1 L608.6 183.3 L610.4 183.5 L612.2 183.7 L614.0 183.8 L615.7 184.0 L617.5 184.2 L619.3 184.3 L621.3 184.3 L623.2 184.2 L625.2 184.1 L627.2 184.0 L629.1 183.9 L631.1 183.8 L632.8 183.8 L634.5 183.8 L636.3 183.8 L638.0 183.8 L640.0 184.5 L642.0 184.3 L643.9 184.2 L645.9 184.0 L647.8 183.8 L649.8 183.6 L651.7 183.4 L653.7 183.2 L655.7 183.0 L657.6 182.8 L659.6 182.6 L661.5 182.4 L663.5 182.2 L665.4 182.0 L667.4 181.8 L669.3 181.8 L671.3 181.8 L673.2 181.8 L675.1 181.8 L677.0 181.8 L679.0 181.8 L680.9 181.8 L682.8 181.8 L684.8 181.8 L686.7 181.8 L688.6 181.8 L690.6 181.8 L692.5 181.8 L694.4 181.8 L696.3 181.8 L698.3 181.8 L700.2 181.8 L702.0 181.3 L703.7 180.8 L705.5 180.3 L707.2 179.8 L709.0 179.3 L710.7 178.8 L712.5 178.3 L714.3 177.8 L716.1 177.3 L718.0 176.8 L719.8 176.3 L721.6 175.7 L723.4 175.2 L725.3 174.7 L727.1 174.2 L728.9 173.6 L730.7 173.0 L732.6 172.3 L734.4 171.6 L736.2 170.9 L738.1 170.2 L739.9 169.5 L741.3 167.7 L742.6 165.9 L744.0 164.0 L745.4 162.4 L746.7 160.8 L748.1 159.2 L749.9 158.1 L751.7 157.0 L753.5 155.8 L755.3 155.4 L757.0 155.0 L758.8 154.6 L760.6 154.2 L762.4 153.8 L764.1 153.4 L765.9 153.0 L767.7 152.1 L769.5 151.2 L771.3 150.3 L773.0 150.1 L774.8 149.8 L776.5 149.5 L778.3 149.2 L780.0 148.9 L781.8 148.7 L783.7 148.5 L785.5 148.2 L787.3 148.0 L789.2 147.8 L791.0 147.5 L792.8 147.3 L794.7 147.1 L796.5 146.8 L798.4 146.5 L800.2 146.1 L802.1 145.7 L804.0 145.3 L805.9 145.0 L807.7 144.6 L809.6 144.2 L811.5 143.9 L813.4 143.5 L815.2 143.1 L817.1 142.7 L818.8 141.5 L820.5 140.3 L822.2 139.1 L823.9 137.9 L825.6 136.7 L827.3 135.5 L829.2 133.5 L831.1 131.4 L833.1 129.4 L835.0 127.3 L836.8 126.5 L838.5 125.6 L840.3 124.7 L842.0 124.2 L843.7 123.7 L845.4 123.2 L847.1 122.7 L848.8 122.2 L850.5 121.7 L852.4 121.5 L854.2 121.4 L856.1 121.2 L858.0 121.0 L859.8 120.8 L861.7 120.6 L863.5 120.4 L865.4 120.2 L867.3 120.0 L869.1 119.8 L871.0 119.6 L872.9 119.1 L874.7 118.5 L876.6 118.0 L878.5 117.4 L880.3 116.9 L882.2 116.3 L884.0 115.8 L885.9 115.2 L887.8 114.6 L889.6 114.1 L891.5 113.5 L893.2 112.7 L894.9 111.8 L896.6 110.9 L898.4 110.1 L900.1 109.2 L901.8 108.3 L903.6 108.0 L905.4 107.6 L907.2 107.2 L909.0 106.8 L910.8 106.5 L912.6 106.1 L914.4 105.7 L916.2 105.3 L917.9 104.8 L919.6 104.3 L921.3 103.8 L923.0 103.3 L924.7 102.8 L926.4 102.2 L928.1 101.9 L929.8 101.5 L931.5 101.2 L933.3 100.8 L935.0 100.5 L936.7 100.1" fill="none" stroke="#d0707f" stroke-width="1.4" stroke-dasharray="4.6 3.9"/>
<rect x="942" y="88" width="49" height="22" fill="#e02424"/>
<text x="945.8" y="103.8" font-size="12.5" fill="#fff" stroke="#fff" stroke-width="0.35" textLength="40.2" lengthAdjust="spacingAndGlyphs">224.5K</text>
<rect x="942" y="144" width="49" height="21.4" fill="#8e8d95"/>
<text x="946.2" y="159.5" font-size="12.5" fill="#fff" stroke="#fff" stroke-width="0.35" textLength="35.8" lengthAdjust="spacingAndGlyphs">112.2K</text>
<rect x="942.6" y="199" width="40.4" height="21.6" fill="#4a33e6"/>
<text x="946.7" y="214.9" font-size="12.5" fill="#fff" stroke="#fff" stroke-width="0.35" textLength="29.7" lengthAdjust="spacingAndGlyphs">56.1K</text>
<ellipse cx="163.65" cy="432.45" rx="45.75" ry="21.8" fill="none" stroke="#6b9f58" stroke-width="3.2"/>
<ellipse cx="299.4" cy="405.3" rx="25.15" ry="22.05" fill="none" stroke="#6b9f58" stroke-width="3.2"/>
<ellipse cx="581.15" cy="299.5" rx="45.75" ry="21.6" fill="none" stroke="#6b9f58" stroke-width="3.2"/>
<ellipse cx="929.65" cy="211.2" rx="13.0" ry="13.85" fill="none" stroke="#6b9f58" stroke-width="3.2"/>
<text x="107.6" y="487.8" font-size="24.2" fill="#111" stroke="#fff" stroke-width="0.25" textLength="95.2" lengthAdjust="spacingAndGlyphs">2018 low</text>
<text x="249.6" y="455.8" font-size="25" fill="#111" stroke="#fff" stroke-width="0.25" textLength="111" lengthAdjust="spacingAndGlyphs">COVID low</text>
<text x="539.2" y="351.7" font-size="24.2" fill="#111" stroke="#fff" stroke-width="0.25" textLength="96" lengthAdjust="spacingAndGlyphs">2022 low</text>
<text x="870" y="571.1" font-size="9.6" fill="#7a7a7a" textLength="127.8" lengthAdjust="spacingAndGlyphs">© CryptoQuant. All rights reserved</text>
<rect x="0" y="0" width="1024" height="1.2" fill="#000"/>
<rect x="0" y="0" width="1.2" height="585" fill="#000"/>
<rect x="1022.9" y="0" width="1.1" height="585" fill="#7a7a7a"/>
</svg>
</body></html>
